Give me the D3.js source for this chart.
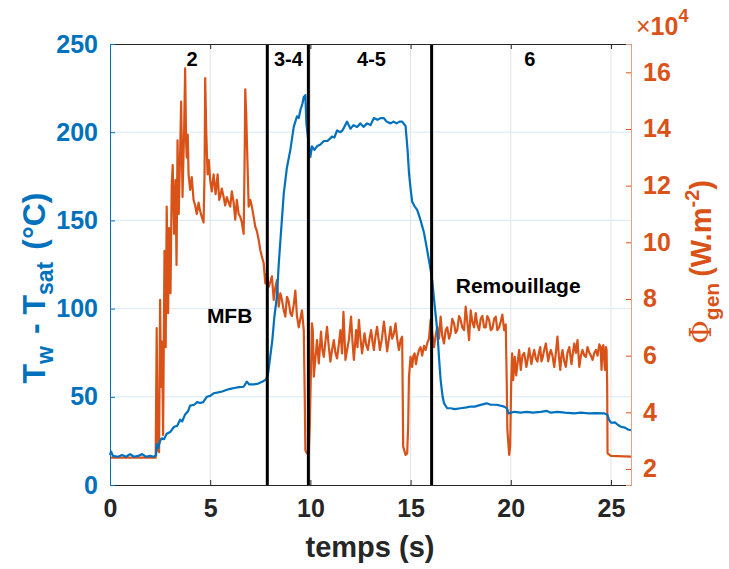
<!DOCTYPE html>
<html><head><meta charset="utf-8">
<script src="https://cdn.jsdelivr.net/npm/d3@7"></script>
<style>body{margin:0;background:#fff}svg{display:block;font-family:"Liberation Sans",Arial,sans-serif}</style>
</head><body><svg id="c" width="729" height="569"></svg>
<script>
// ---- data ----
const xTicks = [0,5,10,15,20,25];
const yLeftTicks = [0,50,100,150,200,250];
const yRightTicks = [2,4,6,8,10,12,14,16];
const phaseLines = [7.85, 9.9, 16.05];
const phaseLabels = [["2",4.1],["3-4",8.9],["4-5",13.05],["6",20.95]];
const annotations = [["MFB",5.97,92],["Remouillage",20.37,109]];
// Tw - Tsat (°C) : [t (s), value]
const deltaT = [[0,17],[0.05,19],[0.15,16.5],[0.4,16],[0.6,17],[0.8,16],[1.0,17.5],[1.2,16],[1.4,16.5],[1.6,17.5],[1.8,16],[2.0,16.5],[2.2,16],[2.3,17],[2.33,23],[2.4,21],[2.5,25],[2.58,26.5],[2.7,26],[2.83,29],[3.0,30],[3.2,33],[3.35,33.5],[3.5,37],[3.6,36],[3.75,40],[3.9,42],[4.0,45],[4.2,45.5],[4.35,47],[4.5,46.5],[4.65,47],[4.83,50],[5.0,50.5],[5.17,52],[5.4,52.5],[5.6,53],[5.83,54],[6.0,54.5],[6.2,55],[6.45,55.5],[6.67,55.7],[6.83,58.6],[6.95,57],[7.17,57],[7.4,57.5],[7.67,59],[7.8,60],[7.9,64],[8.0,73],[8.1,82],[8.2,95],[8.33,107],[8.42,125],[8.5,138],[8.67,165],[8.83,180],[9.0,190],[9.17,203],[9.33,209],[9.42,208],[9.5,212.6],[9.6,216],[9.67,220],[9.75,221],[9.8,205],[9.9,195],[10.0,186],[10.08,192],[10.2,190],[10.33,192],[10.5,193],[10.67,195],[10.85,195],[11.08,197.5],[11.2,197],[11.33,201],[11.5,200],[11.6,201],[11.83,206],[12.0,202],[12.15,204],[12.33,203],[12.5,205],[12.65,203],[12.83,205],[13.0,204],[13.17,208],[13.35,207],[13.5,208],[13.67,208],[13.8,206],[14.0,205],[14.15,206],[14.3,205],[14.45,206],[14.58,206],[14.75,203.5],[14.85,190],[14.92,177],[15.0,168],[15.08,160.6],[15.2,158],[15.33,156],[15.5,150],[15.67,143],[15.83,133],[16.0,122],[16.08,116],[16.2,102],[16.33,88],[16.42,72],[16.5,59.5],[16.6,50],[16.67,46.3],[16.83,43.5],[17.0,43.5],[17.2,43],[17.5,43.5],[17.8,44],[18.0,44.5],[18.2,44.4],[18.5,45.4],[18.8,46.3],[19.0,45.5],[19.3,45.5],[19.67,44.4],[19.8,43.5],[19.9,40.6],[20.17,41.5],[20.5,41],[20.8,41.5],[21.1,41],[21.5,41.5],[21.8,42],[22.0,41],[22.33,41.5],[22.7,41],[23.17,40.6],[23.5,41],[23.9,40.6],[24.3,40.8],[24.67,40.6],[24.83,39.7],[24.9,37],[25.0,35.3],[25.2,35.5],[25.35,34],[25.5,33],[25.7,32.5],[25.85,31.5],[26,31]];
// Phi_gen (x1e4 W.m^-2) : [t (s), value]
const phiGen = [[0,2.4],[2.28,2.4],[2.33,6.97],[2.38,2.67],[2.45,2.6],[2.5,7.97],[2.55,4.9],[2.6,6.5],[2.65,3.2],[2.72,9.7],[2.78,6.3],[2.83,11.26],[2.9,7.5],[2.95,10.5],[3.02,8.2],[3.08,12.0],[3.13,12.73],[3.2,10.3],[3.27,12.2],[3.32,9.2],[3.37,13.6],[3.43,11.0],[3.5,13.2],[3.55,14.97],[3.62,11.6],[3.7,14.0],[3.75,16.14],[3.8,13.5],[3.83,13.0],[3.88,13.8],[3.92,12.4],[4.0,11.85],[4.08,12.3],[4.17,11.5],[4.25,11.3],[4.33,11.0],[4.42,11.4],[4.5,11.1],[4.58,10.9],[4.67,10.7],[4.72,12.5],[4.75,15.8],[4.8,14.0],[4.87,12.4],[4.93,12.9],[5.0,12.2],[5.08,11.8],[5.17,12.4],[5.27,11.7],[5.37,12.4],[5.45,11.5],[5.5,11.6],[5.58,11.9],[5.67,11.6],[5.75,11.3],[5.83,11.6],[5.92,11.4],[6.0,11.26],[6.08,11.8],[6.17,11.4],[6.25,10.8],[6.33,11.5],[6.42,11.0],[6.5,10.9],[6.58,10.7],[6.67,10.3],[6.72,13.0],[6.75,15.4],[6.8,14.5],[6.83,13.6],[6.92,11.26],[7.0,11.5],[7.08,11.26],[7.17,10.9],[7.25,10.55],[7.33,10.4],[7.42,10.08],[7.5,9.73],[7.58,9.5],[7.67,9.26],[7.75,8.55],[7.83,8.9],[7.92,8.43],[8.0,8.6],[8.08,8.8],[8.17,7.97],[8.25,8.4],[8.33,8.67],[8.42,7.73],[8.5,8.2],[8.58,7.97],[8.67,7.6],[8.75,7.38],[8.83,8.08],[8.92,7.9],[9.0,7.5],[9.08,7.4],[9.17,7.8],[9.25,8.3],[9.33,7.4],[9.42,7.0],[9.5,7.3],[9.58,7.6],[9.67,6.9],[9.72,4.5],[9.75,2.67],[9.83,2.55],[9.92,2.55],[9.97,3.5],[10.0,4.55],[10.08,7.14],[10.12,6.9],[10.17,5.26],[10.25,5.9],[10.33,6.55],[10.42,5.73],[10.53,6.85],[10.6,6.2],[10.67,5.96],[10.75,6.5],[10.83,7.02],[10.92,6.3],[11.0,5.79],[11.08,6.2],[11.17,6.55],[11.25,6.1],[11.33,5.9],[11.42,6.4],[11.5,6.9],[11.58,6.08],[11.65,7.55],[11.75,5.85],[11.83,6.2],[11.92,6.55],[12.03,7.38],[12.1,6.5],[12.17,5.85],[12.28,6.9],[12.35,6.3],[12.42,7.26],[12.5,6.6],[12.58,6.08],[12.7,6.79],[12.78,6.4],[12.87,6.2],[12.95,6.6],[13.03,6.9],[13.1,6.5],[13.17,6.2],[13.25,6.7],[13.33,7.02],[13.4,6.6],[13.47,6.2],[13.57,6.6],[13.67,7.2],[13.75,6.7],[13.83,6.15],[13.92,6.6],[14.0,7.02],[14.08,6.6],[14.17,6.79],[14.25,7.14],[14.33,6.6],[14.42,6.2],[14.5,6.55],[14.58,6.67],[14.61,4.5],[14.63,2.79],[14.75,2.5],[14.83,2.55],[14.88,3.5],[14.92,5.26],[15.0,5.96],[15.08,5.6],[15.14,6.0],[15.2,6.08],[15.27,5.7],[15.33,5.96],[15.42,6.2],[15.5,6.3],[15.58,6.0],[15.67,6.35],[15.75,6.2],[15.83,6.43],[15.92,6.6],[16.0,7.26],[16.08,6.8],[16.17,6.3],[16.25,6.7],[16.33,7.02],[16.42,6.6],[16.5,7.38],[16.58,6.7],[16.67,6.43],[16.75,6.9],[16.83,7.0],[16.92,6.6],[17.0,6.79],[17.08,7.3],[17.17,7.14],[17.25,6.8],[17.33,6.9],[17.42,7.4],[17.5,7.26],[17.58,7.0],[17.67,6.9],[17.75,7.73],[17.83,7.2],[17.92,6.55],[18.0,7.6],[18.08,7.2],[18.17,7.0],[18.25,7.5],[18.33,7.1],[18.42,6.9],[18.5,7.3],[18.58,7.4],[18.67,7.0],[18.75,7.0],[18.83,7.4],[18.92,7.26],[19.0,6.9],[19.08,6.95],[19.17,7.3],[19.25,7.38],[19.33,6.9],[19.42,7.0],[19.5,7.2],[19.58,7.45],[19.67,6.9],[19.75,7.1],[19.8,5.0],[19.83,3.38],[19.92,2.5],[19.97,2.8],[20.02,5.0],[20.07,6.08],[20.12,5.14],[20.2,5.96],[20.27,5.3],[20.35,5.8],[20.42,6.2],[20.5,5.5],[20.58,6.0],[20.67,6.1],[20.78,5.6],[20.85,5.9],[20.92,6.26],[21.03,5.7],[21.1,6.0],[21.17,6.2],[21.25,5.9],[21.33,5.79],[21.4,6.1],[21.47,6.3],[21.53,5.8],[21.58,5.9],[21.67,6.2],[21.75,6.43],[21.87,5.8],[21.95,6.1],[22.0,6.2],[22.08,6.0],[22.17,5.6],[22.25,6.1],[22.33,6.67],[22.4,6.0],[22.47,5.5],[22.53,6.0],[22.58,6.2],[22.67,5.8],[22.75,5.6],[22.83,6.1],[22.92,6.3],[23.03,5.7],[23.1,6.1],[23.17,6.43],[23.25,6.1],[23.33,6.55],[23.42,5.6],[23.5,6.0],[23.58,6.2],[23.67,6.0],[23.75,5.96],[23.83,6.3],[23.92,6.1],[24.0,6.0],[24.08,5.85],[24.17,6.1],[24.25,6.2],[24.33,6.0],[24.42,6.4],[24.48,6.3],[24.53,5.5],[24.58,6.3],[24.62,6.37],[24.66,5.9],[24.7,5.5],[24.75,6.3],[24.78,6.2],[24.81,5.0],[24.83,2.55],[25.0,2.46],[26,2.44]];

// ---- drawing ----
const BLUE="#0072BD", ORANGE="#D95319", DARK="#262626";
const L=110,R=631,T=44,B=485;
const svg=d3.select("#c");
const x=d3.scaleLinear([0,26],[L,R]);
const yL=d3.scaleLinear([0,250],[B,T]);
const yR=d3.scaleLinear([1.435,17],[B,T]);

// grid
svg.append("g").selectAll("line").data(xTicks.filter(d=>d>0)).join("line")
  .attr("x1",d=>x(d)).attr("x2",d=>x(d)).attr("y1",T).attr("y2",B)
  .attr("stroke","#e3e3e3").attr("stroke-width",1);
svg.append("g").selectAll("line").data(yLeftTicks.filter(d=>d>0&&d<250)).join("line")
  .attr("x1",L).attr("x2",R).attr("y1",d=>yL(d)).attr("y2",d=>yL(d))
  .attr("stroke","#dbe9f5").attr("stroke-width",1);

// series
svg.append("path").datum(phiGen)
  .attr("d",d3.line().x(d=>x(d[0])).y(d=>yR(d[1])))
  .attr("fill","none").attr("stroke",ORANGE).attr("stroke-width",2.2).attr("stroke-linejoin","round");
svg.append("path").datum(deltaT)
  .attr("d",d3.line().x(d=>x(d[0])).y(d=>yL(d[1])))
  .attr("fill","none").attr("stroke",BLUE).attr("stroke-width",2.2).attr("stroke-linejoin","round");

// phase lines
svg.append("g").selectAll("line").data(phaseLines).join("line")
  .attr("x1",d=>x(d)).attr("x2",d=>x(d)).attr("y1",T).attr("y2",B)
  .attr("stroke","#000").attr("stroke-width",3);

// axes
const fontTick="bold 25px 'Liberation Sans', Arial, sans-serif";
// bottom
const gx=svg.append("g").attr("transform",`translate(0,${B})`)
  .call(d3.axisBottom(x).tickValues(xTicks).tickSize(-5).tickPadding(14).tickFormat(d3.format("d")));
gx.select(".domain").attr("stroke",DARK);
gx.selectAll(".tick line").attr("stroke",DARK);
gx.selectAll(".tick text").attr("fill",DARK).style("font",fontTick);
// top
const gt=svg.append("g").attr("transform",`translate(0,${T})`)
  .call(d3.axisTop(x).tickValues(xTicks).tickSize(-5).tickFormat(""));
gt.select(".domain").attr("stroke",DARK);
gt.selectAll(".tick line").attr("stroke",DARK);
// left
const gl=svg.append("g").attr("transform",`translate(${L},0)`)
  .call(d3.axisLeft(yL).tickValues(yLeftTicks).tickSize(-5).tickPadding(12));
gl.select(".domain").attr("stroke",BLUE);
gl.selectAll(".tick line").attr("stroke",BLUE);
gl.selectAll(".tick text").attr("fill",BLUE).style("font",fontTick);
// right
const gr=svg.append("g").attr("transform",`translate(${R},0)`)
  .call(d3.axisRight(yR).tickValues(yRightTicks).tickSize(-5).tickPadding(12));
gr.select(".domain").attr("stroke","#e8a080");
gr.selectAll(".tick line").attr("stroke",ORANGE);
gr.selectAll(".tick text").attr("fill",ORANGE).style("font",fontTick);

// exponent
const ex=svg.append("text").attr("x",636).attr("y",35).attr("fill",ORANGE)
  .style("font","25px 'Liberation Sans', Arial, sans-serif");
ex.append("tspan").text("×");
ex.append("tspan").attr("font-weight","bold").text("10");
ex.append("tspan").attr("font-weight","bold").attr("font-size","18px").attr("dy",-13).text("4");

// phase labels
svg.append("g").selectAll("text").data(phaseLabels).join("text")
  .attr("x",d=>x(d[1])).attr("y",66).attr("text-anchor","middle")
  .style("font","bold 20px 'Liberation Sans', Arial, sans-serif").attr("fill","#000").text(d=>d[0]);
svg.append("g").selectAll("text").data(annotations).join("text")
  .attr("x",d=>x(d[1])).attr("y",d=>yL(d[2])).attr("text-anchor","middle")
  .style("font","bold 21px 'Liberation Sans', Arial, sans-serif").attr("fill","#000").text(d=>d[0]);

// x title
svg.append("text").attr("x",370).attr("y",557).attr("text-anchor","middle")
  .style("font","bold 29px 'Liberation Sans', Arial, sans-serif").attr("fill",DARK).text("temps (s)");

// left title
const lt=svg.append("text").attr("transform","translate(45,288) rotate(-90)").attr("text-anchor","middle")
  .style("font","bold 32px 'Liberation Sans', Arial, sans-serif").attr("fill",BLUE);
lt.append("tspan").text("T");
lt.append("tspan").attr("font-size","23px").attr("dy",8).text("w");
lt.append("tspan").attr("dy",-8).attr("dx",12).text("- T");
lt.append("tspan").attr("font-size","23px").attr("dy",8).text("sat");
lt.append("tspan").attr("dy",-8).attr("dx",12).text("(°C)");

// right title
const rt=svg.append("text").attr("transform","translate(711,262) rotate(-90)").attr("text-anchor","middle")
  .style("font","bold 29px 'Liberation Sans', Arial, sans-serif").attr("fill",ORANGE);
rt.append("tspan").attr("font-weight","normal").attr("font-family","'DejaVu Serif', serif").text("Φ");
rt.append("tspan").attr("font-size","21px").attr("dy",8).text("gen");
rt.append("tspan").attr("dy",-8).attr("dx",6).text("(W.m");
rt.append("tspan").attr("font-size","20px").attr("dy",-12).text("-2");
rt.append("tspan").attr("dy",12).text(")");
</script></body></html>
